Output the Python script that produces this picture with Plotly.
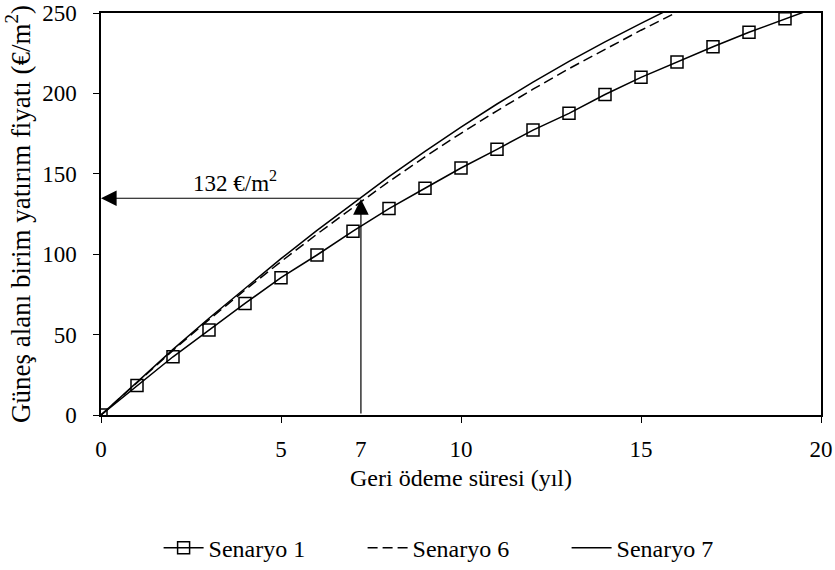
import plotly.graph_objects as go

# ---- data ----
years = list(range(0, 21))
senaryo1 = [0, 18.4, 36.2, 52.8, 69.4, 85.4, 99.5, 114.3, 128.4, 141.0, 153.6,
            165.2, 177.2, 187.6, 199.3, 210.0, 219.6, 229.0, 238.0, 246.5, 254.5]
senaryo6 = [0, 20.4, 40.2, 59.3, 77.7, 95.4, 112.5, 129.0, 145.2, 160.6, 175.2,
            189.2, 202.6, 215.4, 227.6, 239.3, 250.5, 261.0, 271.0, 280.5, 289.5]
senaryo7 = [0, 20.7, 40.8, 60.2, 79.0, 97.2, 114.8, 131.7, 148.3, 164.0, 179.0,
            193.4, 207.0, 219.9, 232.0, 243.5, 255.0, 266.0, 276.0, 285.5, 294.5]
names = ["Senaryo 1", "Senaryo 6", "Senaryo 7"]

x_ticks = [0, 5, 10, 15, 20]
y_ticks = [0, 50, 100, 150, 200, 250]
payback_year = 7.22
payback_label = "7"
price_level = 134.8
price_text = "132 €/m<sup>2</sup>"
price_text_x = 3.72

FONT = "Liberation Serif"
TICK_SIZE = 23
XTITLE_SIZE = 24
YTITLE_SIZE = 27
LEGEND_SIZE = 24

fig = go.Figure()
fig.add_trace(go.Scatter(
    x=years, y=senaryo1, name=names[0], mode="lines+markers",
    line=dict(color="black", width=1.5),
    marker=dict(symbol="square-open", size=12, color="black", line=dict(width=1.5)),
))
fig.add_trace(go.Scatter(
    x=years, y=senaryo6, name=names[1], mode="lines",
    line=dict(color="black", width=1.5, dash="10px,5px"),
))
fig.add_trace(go.Scatter(
    x=years, y=senaryo7, name=names[2], mode="lines",
    line=dict(color="black", width=1.5),
))

# arrows
fig.add_annotation(x=0, y=price_level, ax=payback_year, ay=price_level,
                   xref="x", yref="y", axref="x", ayref="y", text="",
                   showarrow=True, arrowhead=2, arrowsize=2.6, arrowwidth=1.2,
                   arrowcolor="black", standoff=0)
fig.add_annotation(x=payback_year, y=price_level - 0.5, ax=payback_year, ay=0,
                   xref="x", yref="y", axref="x", ayref="y", text="",
                   showarrow=True, arrowhead=2, arrowsize=2.6, arrowwidth=1.2,
                   arrowcolor="black", standoff=0)
fig.add_annotation(x=price_text_x, y=price_level, xref="x", yref="y",
                   text=price_text, showarrow=False, yanchor="bottom", yshift=0,
                   font=dict(family=FONT, size=TICK_SIZE, color="black"))
# extra tick label for the payback year
fig.add_annotation(x=payback_year, y=0, xref="x", yref="y", text=payback_label,
                   showarrow=False, yanchor="top", yshift=-20,
                   font=dict(family=FONT, size=TICK_SIZE, color="black"))

axis_common = dict(showline=True, linecolor="black", linewidth=1.5, mirror=True,
                   showgrid=False, zeroline=False, ticks="outside", ticklen=6,
                   tickcolor="black", tickwidth=1.2, ticklabeloverflow="allow",
                   automargin=False,
                   tickfont=dict(family=FONT, size=TICK_SIZE, color="black"))

fig.update_xaxes(range=[0, 20], tickvals=x_ticks,
                 title=dict(text="Geri ödeme süresi (yıl)", standoff=8,
                            font=dict(family=FONT, size=XTITLE_SIZE, color="black")),
                 ticklabelstandoff=7, **axis_common)
fig.update_yaxes(range=[0, 250], tickvals=y_ticks,
                 title=dict(text="Güneş alanı birim yatırım fiyatı (€/m<sup>2</sup>)", standoff=4,
                            font=dict(family=FONT, size=YTITLE_SIZE, color="black")),
                 ticklabelstandoff=12, **axis_common)

fig.update_layout(
    width=835, height=570,
    margin=dict(l=101, r=14, t=13, b=155, autoexpand=False),
    paper_bgcolor="white", plot_bgcolor="white",
    font=dict(family=FONT, size=TICK_SIZE, color="black"),
    legend=dict(orientation="h", x=0.08, xanchor="left", y=-0.331, yanchor="middle",
                font=dict(family=FONT, size=LEGEND_SIZE, color="black"),
                itemwidth=40, tracegroupgap=0, entrywidth=149),
    showlegend=True,
)

fig.write_html("out.html")
